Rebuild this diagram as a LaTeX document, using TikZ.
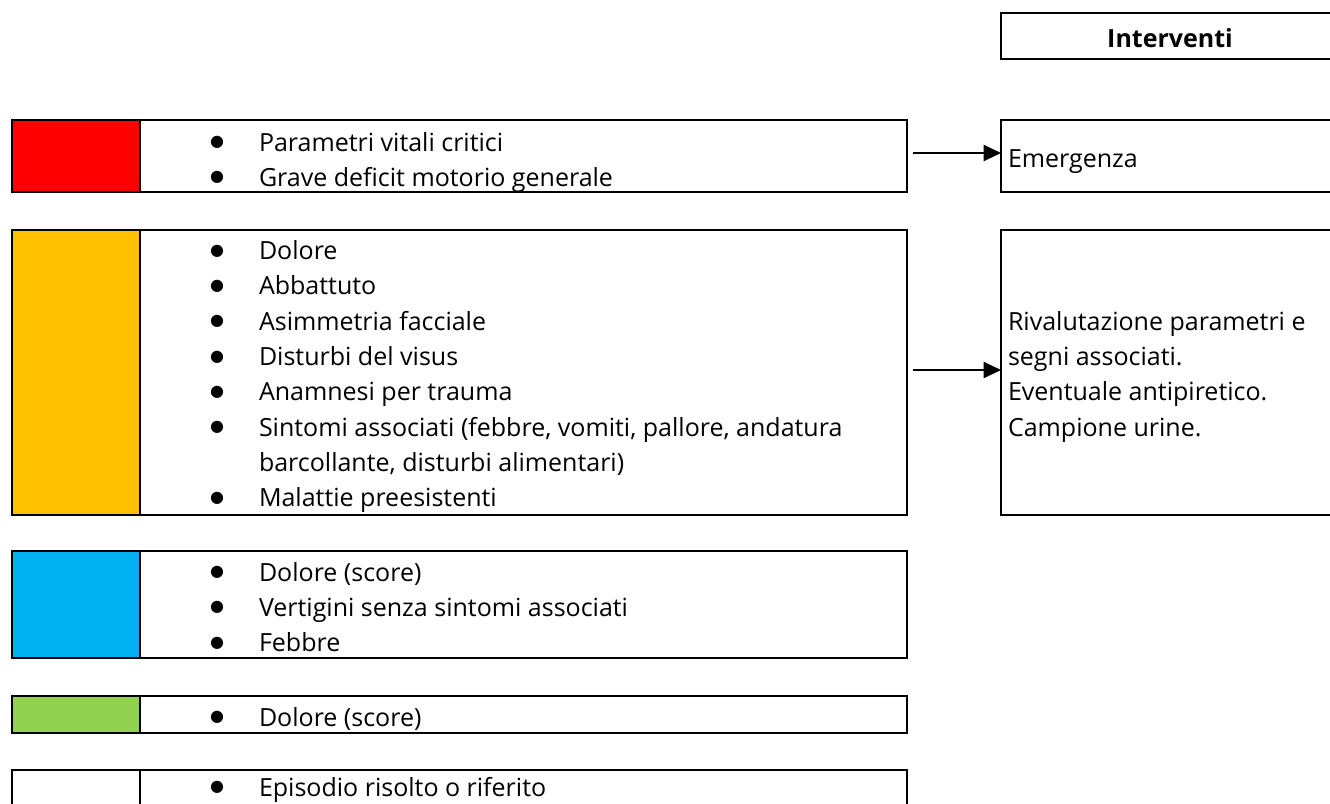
\documentclass[tikz,border=0pt]{standalone}
\usepackage{fontspec}
\setmainfont{Open Sans}
\newfontfamily\symfont{DejaVu Sans}
\usetikzlibrary{fit,arrows.meta}

\definecolor{codeRed}{HTML}{FF0000}
\definecolor{codeOrange}{HTML}{FFC000}
\definecolor{codeBlue}{HTML}{00B0F0}
\definecolor{codeGreen}{HTML}{92D050}

% one bulleted line: bullet centred on the anchor, text 42px further right
\newcommand\bulletmark{\makebox[0pt][c]{\smash{\raisebox{3.3pt}{\symfont\fontsize{12pt}{12pt}\selectfont ●}}}}
\newcommand\itm{\bulletmark\hspace{31.5pt}}
\newcommand\lines[1]{\begin{tabular}[t]{@{}l@{}}#1\end{tabular}}

\tikzset{
  cell/.style={draw, line width=1.5pt, inner sep=0pt, outer sep=0pt},
  txt/.style={inner sep=0pt, outer sep=0pt, anchor=base west,
              font=\fontsize{18.75pt}{26.5pt}\selectfont},
  arr/.style={line width=1.5pt, -{Triangle[length=13pt, width=12pt]}},
}

\begin{document}
\begin{tikzpicture}[x=0.75pt, y=-0.75pt]
  \clip (0,0) rectangle (1330,803);
  \fill[white] (0,0) rectangle (1330,803);

  % header of the interventions column
  \node[cell, fit={(1001,13) (1340,59)}] (hdr) {};
  \node[txt, anchor=base, font=\fontsize{18.75pt}{26.5pt}\selectfont\bfseries] (hdrtxt) at (1170,47) {Interventi};

  % red code
  \node[cell, fill=codeRed, fit={(12,120) (140,192)}] (redc) {};
  \node[cell, fit={(140,120) (907,192)}] (redb) {};
  \node[txt] (redt) at (217,151) {\lines{\itm Parametri vitali critici\\ \itm Grave deficit motorio generale}};

  % orange code
  \node[cell, fill=codeOrange, fit={(12,230) (140,515)}] (orac) {};
  \node[cell, fit={(140,230) (907,515)}] (orab) {};
  \node[txt] (orat) at (217,259.5) {\lines{%
    \itm Dolore\\
    \itm Abbattuto\\
    \itm Asimmetria facciale\\
    \itm Disturbi del visus\\
    \itm Anamnesi per trauma\\
    \itm Sintomi associati (febbre, vomiti, pallore, andatura\\
    \hspace{31.5pt}barcollante, disturbi alimentari)\\
    \itm Malattie preesistenti}};

  % blue code
  \node[cell, fill=codeBlue, fit={(12,551) (140,658)}] (bluc) {};
  \node[cell, fit={(140,551) (907,658)}] (blub) {};
  \node[txt] (blut) at (217,581) {\lines{\itm Dolore (score)\\ \itm Vertigini senza sintomi associati\\ \itm Febbre}};

  % green code
  \node[cell, fill=codeGreen, fit={(12,696) (140,733)}] (grec) {};
  \node[cell, fit={(140,696) (907,733)}] (greb) {};
  \node[txt] (gret) at (217,726) {\lines{\itm Dolore (score)}};

  % white code
  \node[cell, fit={(12,770) (140,810)}] (whic) {};
  \node[cell, fit={(140,770) (907,810)}] (whib) {};
  \node[txt] (whit) at (217,796) {\lines{\itm Episodio risolto o riferito}};

  % interventions
  \node[cell, fit={(1001,120) (1340,192)}] (emerg) {};
  \node[txt] (emergt) at (1008,167) {Emergenza};
  \node[cell, fit={(1001,230) (1340,515)}] (rival) {};
  \node[txt] (rivalt) at (1008,330) {\lines{Rivalutazione parametri e\\ segni associati.\\ Eventuale antipiretico.\\ Campione urine.}};

  % connectors
  \draw[arr, shorten <=4.5pt] (redb.east |- 0,153) -- (emerg.west |- 0,153);
  \draw[arr, shorten <=4.5pt] (orab.east |- 0,370) -- (rival.west |- 0,370);
\end{tikzpicture}
\end{document}
